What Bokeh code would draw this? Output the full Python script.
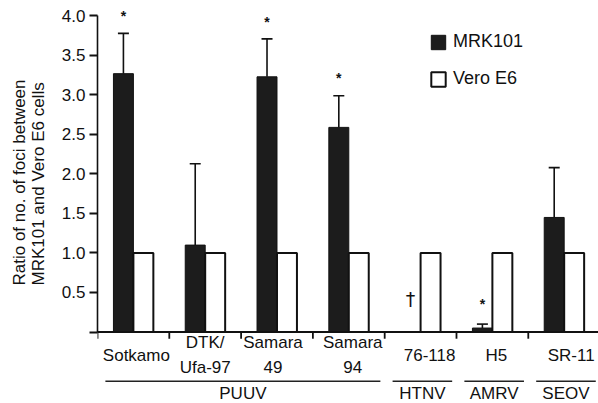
from bokeh.plotting import figure
from bokeh.models import (Range1d, FixedTicker, PrintfTickFormatter, ColumnDataSource,
                          Whisker, TeeHead, Legend, LegendItem, Title)
from bokeh.core.properties import value
from bokeh.embed import file_html
from bokeh.resources import INLINE

# ---------------- data ----------------
categories = ["Sotkamo", "DTK/\nUfa-97", "Samara\n49", "Samara\n94", "76-118", "H5", "SR-11"]
mrk101 = [3.27, 1.10, 3.23, 2.59, 0.0, 0.05, 1.45]
mrk101_err_top = [3.78, 2.13, 3.71, 2.99, None, 0.10, 2.08]
vero_e6 = [1.0, 1.0, 1.0, 1.0, 1.0, 1.0, 1.0]
groups = ["PUUV", "HTNV", "AMRV", "SEOV"]
group_first = [0, 4, 5, 6]
group_last = [3, 4, 5, 6]
star_cat = [0, 2, 3, 5]
star_y = [4.0, 3.93, 3.21, 0.36]
dagger_cat = [4]
dagger_y = [0.42]
y_ticks = [0.0, 0.5, 1.0, 1.5, 2.0, 2.5, 3.0, 3.5, 4.0]
y_title = "Ratio of no. of foci between\nMRK101 and Vero E6 cells"

# layout / style
FONT = "Liberation Sans"
INK = "#111111"
BAR_W = 0.278
OFF = 0.139
label_nudge_px = [3, 0, -4, 4, 9, 4, 7]

p = figure(width=598, height=403, output_backend="svg", toolbar_location=None,
           x_range=Range1d(0, 6.978), y_range=Range1d(-0.905, 4.196),
           min_border_left=97, min_border_right=0, min_border_top=0, min_border_bottom=0)
p.outline_line_color = None
p.grid.visible = False
p.xaxis.visible = False

n = len(categories)
cx = [i + 0.5 for i in range(n)]

src = ColumnDataSource(dict(xb=[c - OFF for c in cx], xw=[c + OFF for c in cx],
                            mrk=mrk101, vero=vero_e6))
r_mrk = p.vbar(x="xb", top="mrk", width=BAR_W, bottom=0, source=src,
               fill_color="#1c1c1c", line_color=INK, line_width=1)
r_vero = p.vbar(x="xw", top="vero", width=BAR_W, bottom=0, source=src,
                fill_color="white", line_color=INK, line_width=2)

# error bars (upper only)
ex, elo, ehi = [], [], []
for i in range(n):
    if mrk101_err_top[i] is not None:
        ex.append(cx[i] - OFF); elo.append(mrk101[i]); ehi.append(mrk101_err_top[i])
esrc = ColumnDataSource(dict(x=ex, lo=elo, hi=ehi))
p.add_layout(Whisker(source=esrc, base="x", lower="lo", upper="hi", dimension="height",
                     line_color=INK, line_width=1.6,
                     upper_head=TeeHead(size=11, line_width=1.6, line_color=INK),
                     lower_head=None))

# significance marks
p.text(x=[cx[c] - OFF for c in star_cat], y=star_y, text=["*"] * len(star_cat),
       text_font=value(FONT), text_font_size="14px", text_font_style="bold",
       text_align="center", text_baseline="middle", text_color=INK)
p.text(x=[cx[c] - OFF for c in dagger_cat], y=dagger_y, text=["\u2020"] * len(dagger_cat),
       text_font=value("DejaVu Sans"), text_font_size="19px",
       text_align="center", text_baseline="middle", text_color=INK)

# x baseline and ticks (drawn in data space at y = 0)
p.segment(x0=[0], y0=[0], x1=[7], y1=[0], line_color=INK, line_width=1.8)
p.segment(x0=list(range(n + 1)), y0=[0] * (n + 1), x1=list(range(n + 1)),
          y1=[-0.085] * (n + 1), line_color=INK, line_width=1.8)

# category labels
lsrc = ColumnDataSource(dict(x=cx, y=[-0.295] * n, t=categories, dx=label_nudge_px))
p.text(x="x", y="y", text="t", x_offset="dx", source=lsrc, text_font=value(FONT),
       text_font_size="17px", text_align="center", text_baseline="middle",
       text_line_height=1.3, text_color=INK)

# group lines and labels
p.segment(x0=[g + 0.11 for g in group_first], y0=[-0.623] * len(groups),
          x1=[g + 1 - 0.06 for g in group_last], y1=[-0.623] * len(groups),
          line_color="#222222", line_width=1.5)
p.text(x=[(f + l + 1) / 2 + 0.025 for f, l in zip(group_first, group_last)],
       y=[-0.78] * len(groups), text=groups, text_font=value(FONT),
       text_font_size="17px", text_align="center", text_baseline="middle",
       text_color=INK)

# y axis
ya = p.yaxis[0]
ya.bounds = (0, 4)
ya.ticker = FixedTicker(ticks=y_ticks)
ya.formatter = PrintfTickFormatter(format="%.1f")
ya.major_label_overrides = {0: ""}
ya.minor_tick_line_color = None
ya.major_tick_in = 0
ya.major_tick_out = 8
ya.major_tick_line_width = 1.8
ya.axis_line_width = 1.6
ya.axis_line_color = INK
ya.major_tick_line_color = INK
ya.major_label_text_font = FONT
ya.major_label_text_font_size = "17px"
ya.major_label_text_color = INK
ya.major_label_standoff = 4

p.add_layout(Title(text=y_title, align="left", offset=118, vertical_align="top",
                   standoff=18, text_font=FONT, text_font_size="17px",
                   text_font_style="normal", text_color=INK, text_line_height=1.0),
             "left")

legend = Legend(items=[LegendItem(label="MRK101", renderers=[r_mrk]),
                       LegendItem(label="Vero E6", renderers=[r_vero])],
                location=(332, 314), padding=0, margin=0, spacing=16,
                glyph_width=18, glyph_height=18, label_height=18,
                label_standoff=6, label_text_font=FONT, label_text_font_size="18px",
                label_text_color=INK, border_line_color=None,
                background_fill_alpha=0)
p.add_layout(legend)

open("out.html", "w").write(file_html(p, INLINE))
